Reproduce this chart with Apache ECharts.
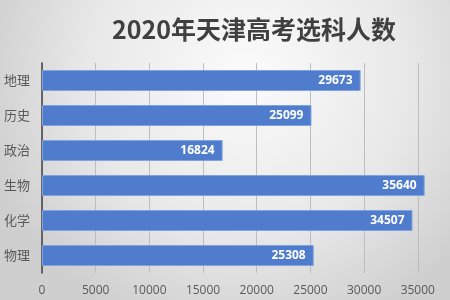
<!DOCTYPE html>
<html><head><meta charset="utf-8">
<script src="https://cdn.jsdelivr.net/npm/echarts@6/dist/echarts.min.js"></script>
<style>html,body{margin:0;padding:0;}#c{width:450px;height:300px;}</style>
</head><body><div id="c"></div>
<script>
const title = '2020年天津高考选科人数';
const categories = ['地理', '历史', '政治', '生物', '化学', '物理'];
const values = [29673, 25099, 16824, 35640, 34507, 25308];

const chart = echarts.init(document.getElementById('c'));
chart.setOption({
  backgroundColor: {
    type: 'radial', x: 0.55, y: 0.25, r: 0.9,
    colorStops: [{offset: 0, color: '#fbfbfb'}, {offset: 0.6, color: '#e8e8e8'}, {offset: 1, color: '#cfcfcf'}]
  },
  title: {
    text: title, left: 249, top: 12, textAlign: 'center',
    textStyle: {fontSize: 25, fontWeight: 'bold', color: '#404040', fontFamily: 'Noto Sans CJK SC'}
  },
  grid: {left: 42, top: 63, width: 410, height: 210},
  xAxis: {
    type: 'value', min: 0, max: 38000, interval: 5000,
    axisLine: {show: false}, axisTick: {show: false},
    axisLabel: {color: '#595959', fontSize: 12, margin: 12, fontFamily: 'Open Sans', showMaxLabel: false,
      formatter: function (v) { return String(v); }},
    splitLine: {lineStyle: {color: '#bdbdbd', width: 1}}
  },
  yAxis: {
    type: 'category', data: categories, inverse: true,
    axisLine: {lineStyle: {color: '#404040', width: 1.5}}, axisTick: {show: false},
    axisLabel: {color: '#595959', fontSize: 13, margin: 12, fontFamily: 'Noto Sans CJK SC'}
  },
  series: [{
    type: 'bar', data: values, barCategoryGap: '40%',
    itemStyle: {color: '#4f7ccc', borderColor: '#7fa3e0', borderWidth: 1},
    label: {show: true, position: 'insideRight', distance: 8, color: '#ffffff', fontWeight: 'bold', fontSize: 12, fontFamily: 'Open Sans'}
  }]
});
</script></body></html>
